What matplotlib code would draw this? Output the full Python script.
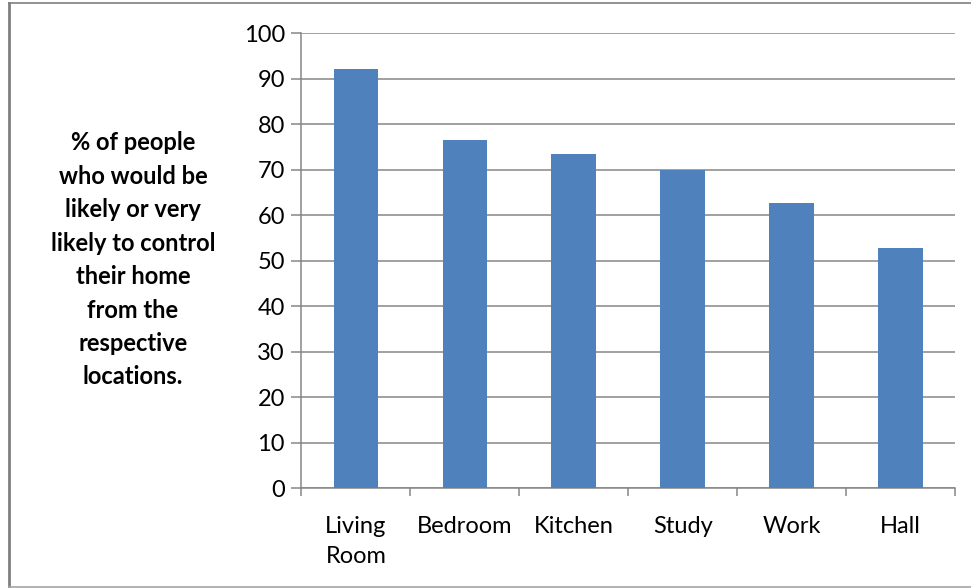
import numpy as np
import matplotlib
matplotlib.use("Agg")
import matplotlib.pyplot as plt
from matplotlib.lines import Line2D

plt.rcParams['font.family'] = ['Lato', 'DejaVu Sans']

LOCATIONS = ['Living\nRoom', 'Bedroom', 'Kitchen', 'Study', 'Work', 'Hall']
PERCENT = [92.1, 76.6, 73.5, 70.0, 62.6, 52.8]
Y_TICKS = list(range(0, 101, 10))
Y_LABEL = ('% of people\nwho would be\nlikely or very\nlikely to control\n'
           'their home\nfrom the\nrespective\nlocations.')

BAR_COLOR = '#4F81BD'
GRID_COLOR = '#868686'

fig = plt.figure(figsize=(9.71, 5.88), dpi=100)
ax = fig.add_axes([0.3105, 0.170, 0.673, 0.7734])

x = np.arange(len(LOCATIONS))
ax.bar(x, PERCENT, width=0.41, color=BAR_COLOR, zorder=3)

ax.set_xlim(-0.5, len(LOCATIONS) - 0.5)
ax.set_ylim(0, 100)
ax.set_yticks(Y_TICKS)
ax.yaxis.grid(True, color=GRID_COLOR, linewidth=1.1, zorder=0)

# category separators as ticks, labels at centres
ax.set_xticks(np.arange(len(LOCATIONS) + 1) - 0.5)
ax.set_xticklabels([])
ax.set_xticks(x, minor=True)
ax.set_xticklabels(LOCATIONS, minor=True, fontsize=17, linespacing=1.55)
ax.tick_params(axis='x', which='minor', length=0, pad=20)
ax.tick_params(axis='x', which='major', length=6, color=GRID_COLOR, width=1.1)
ax.tick_params(axis='y', length=7, color=GRID_COLOR, width=1.1, pad=5,
               labelsize=17)

for s in ['top', 'right']:
    ax.spines[s].set_visible(False)
for s in ['left', 'bottom']:
    ax.spines[s].set_color(GRID_COLOR)
    ax.spines[s].set_linewidth(1.1)

fig.text(0.137, 0.558, Y_LABEL, ha='center', va='center', fontsize=17,
         fontweight='bold', linespacing=1.55)

# outer frame of the chart area
W, H = 971.0, 588.0
fig.add_artist(Line2D([8.5 / W, 8.5 / W], [1 - 2.5 / H, 1 - 587 / H],
                      transform=fig.transFigure, color='#7f7f7f', lw=2))
fig.add_artist(Line2D([8.5 / W, 1.0], [1 - 2.5 / H, 1 - 2.5 / H],
                      transform=fig.transFigure, color='#7f7f7f', lw=1.2))
fig.add_artist(Line2D([8.5 / W, 1.0], [1 - 587 / H, 1 - 587 / H],
                      transform=fig.transFigure, color='#a6a6a6', lw=1.2))

fig.savefig('out.png', dpi=100)
